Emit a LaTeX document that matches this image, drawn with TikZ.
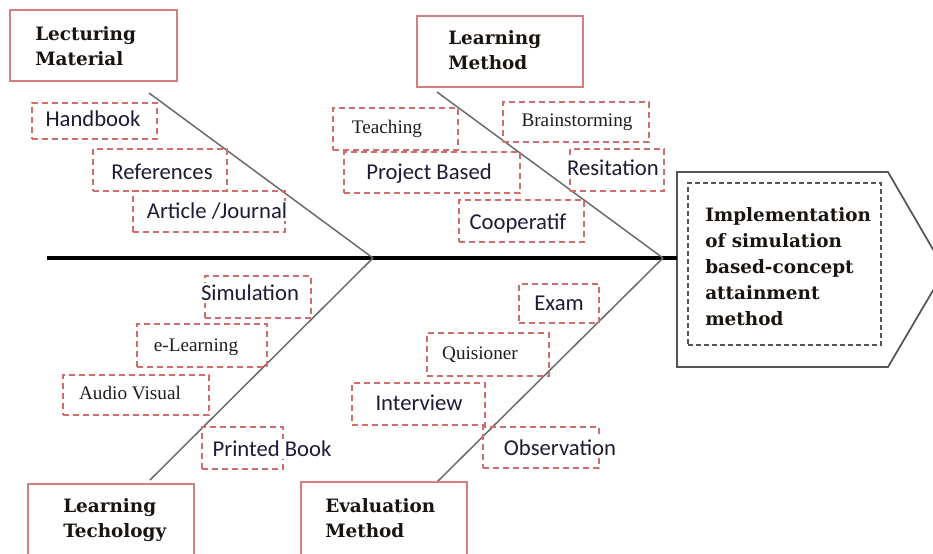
\documentclass[tikz,border=0pt]{standalone}
\usepackage{fontspec}
\setmainfont{Liberation Serif}
\newfontfamily\calibfont{Carlito}
\newfontfamily\headfont{DejaVu Serif}
\usetikzlibrary{fit}
\definecolor{boxred}{RGB}{212,128,128}
\definecolor{dashred}{RGB}{208,110,110}
\definecolor{bonegray}{RGB}{105,105,105}
\definecolor{sanstxt}{RGB}{28,28,55}
\definecolor{seriftxt}{RGB}{30,30,30}
\definecolor{headtxt}{RGB}{25,20,15}
\definecolor{headgray}{RGB}{85,85,85}
\begin{document}
\begin{tikzpicture}[x=0.75pt,y=-0.75pt,
 catbox/.style={draw=boxred, line width=1.1pt, inner sep=0pt},
 dbox/.style={draw=dashred, line width=1.1pt, dash pattern=on 4.5pt off 3pt, inner sep=0pt},
 cattext/.style={font=\headfont\bfseries\fontsize{13.8}{18.75}\selectfont, text=headtxt, align=left, inner sep=0pt, anchor=west},
 sanslbl/.style={font=\calibfont\fontsize{17}{20}\selectfont, text=sanstxt, fill=white, inner sep=2pt, text height=11pt, text depth=0pt},
 seriflbl/.style={font=\fontsize{14.4}{17}\selectfont, text=seriftxt, fill=white, inner sep=2pt, text height=9.5pt, text depth=0pt},
 bone/.style={draw=bonegray, line width=1.1pt},
 spine/.style={draw=black, line width=3pt},
 headshape/.style={draw=headgray, line width=1.3pt},
 headinner/.style={draw=headgray, line width=1.3pt, dash pattern=on 3.5pt off 2.5pt, inner sep=0pt},
]
\useasboundingbox (0,0) rectangle (933,554);
\clip (0,0) rectangle (933,554);

% head
\coordinate (hNW) at (677,172);
\coordinate (hNE) at (888,172);
\coordinate (hTip) at (945,270);
\coordinate (hSE) at (888,367);
\coordinate (hSW) at (677,367);
\coordinate (hL) at (677,258);
\draw[headshape] (hNW) -- (hNE) -- (hTip) -- (hSE) -- (hSW) -- cycle;
\node[headinner, fit={(688,183) (881,345)}] (hin) {};
\node[font=\headfont\bfseries\fontsize{13.8}{19.5}\selectfont, text=headtxt, align=left, inner sep=0pt, anchor=north west] (htext) at (705,207)
 {Implementation\\of simulation\\based-concept\\attainment\\method};

% spine
\coordinate (spS) at (47,258);
\coordinate (jL) at (373,258);
\coordinate (jR) at (663,258);
\draw[spine] (spS) -- (hL);

% bones
\coordinate (bUL) at (149,93);
\coordinate (bUR) at (437,92);
\coordinate (bLL) at (150,480);
\coordinate (bLR) at (437,482);
\draw[bone] (bUL) -- (jL);
\draw[bone] (bUR) -- (jR);
\draw[bone] (bLL) -- (jL);
\draw[bone] (bLR) -- (jR);

% category boxes
\node[catbox, fit={(10,10) (177,81)}] (lm) {};
\node[cattext] (lmt) at (35,46) {Lecturing\\Material};
\node[catbox, fit={(417,16) (583,87)}] (lme) {};
\node[cattext] (lmet) at (448,50) {Learning\\Method};
\node[catbox, fit={(28,484) (194,570)}] (lt) {};
\node[cattext] (ltt) at (63,520) {Learning\\Techology};
\node[catbox, fit={(301,482) (467,570)}] (em) {};
\node[cattext] (emt) at (325,518) {Evaluation\\Method};

% dashed boxes
\node[dbox, fit={(32,103) (157,139)}] (b1) {};
\node[dbox, fit={(93,149) (227,191)}] (b2) {};
\node[dbox, fit={(133,191) (285,232)}] (b3) {};
\node[dbox, fit={(333,108) (458,150)}] (b4) {};
\node[dbox, fit={(503,102) (649,142)}] (b5) {};
\node[dbox, fit={(344,152) (520,193)}] (b6) {};
\node[dbox, fit={(570,149) (664,191)}] (b7) {};
\node[dbox, fit={(459,200) (584,242)}] (b8) {};
\node[dbox, fit={(205,276) (311,318)}] (b9) {};
\node[dbox, fit={(137,324) (267,367)}] (b10) {};
\node[dbox, fit={(63,375) (209,415)}] (b11) {};
\node[dbox, fit={(202,427) (283,469)}] (b12) {};
\node[dbox, fit={(519,284) (599,323)}] (b13) {};
\node[dbox, fit={(427,333) (549,376)}] (b14) {};
\node[dbox, fit={(352,383) (485,425)}] (b15) {};
\node[dbox, fit={(483,427) (599,468)}] (b16) {};

% labels
\node[sanslbl] (t1) at (93,119) {Handbook};
\node[sanslbl] (t2) at (162,172) {References};
\node[sanslbl] (t3) at (217,211) {Article /Journal};
\node[seriflbl] (t4) at (387,127) {Teaching};
\node[seriflbl] (t5) at (577,120) {Brainstorming};
\node[sanslbl] (t6) at (429,172) {Project Based};
\node[sanslbl] (t7) at (613,168) {Resitation};
\node[sanslbl] (t8) at (518,222) {Cooperatif};
\node[sanslbl] (t9) at (250,293) {Simulation};
\node[seriflbl] (t10) at (196,345) {e-Learning};
\node[seriflbl] (t11) at (130,393) {Audio Visual};
\node[sanslbl] (t12) at (272,449) {Printed Book};
\node[sanslbl] (t13) at (559,303) {Exam};
\node[seriflbl] (t14) at (480,353) {Quisioner};
\node[sanslbl] (t15) at (419,403) {Interview};
\node[sanslbl] (t16) at (560,448) {Observation};
\end{tikzpicture}
\end{document}
